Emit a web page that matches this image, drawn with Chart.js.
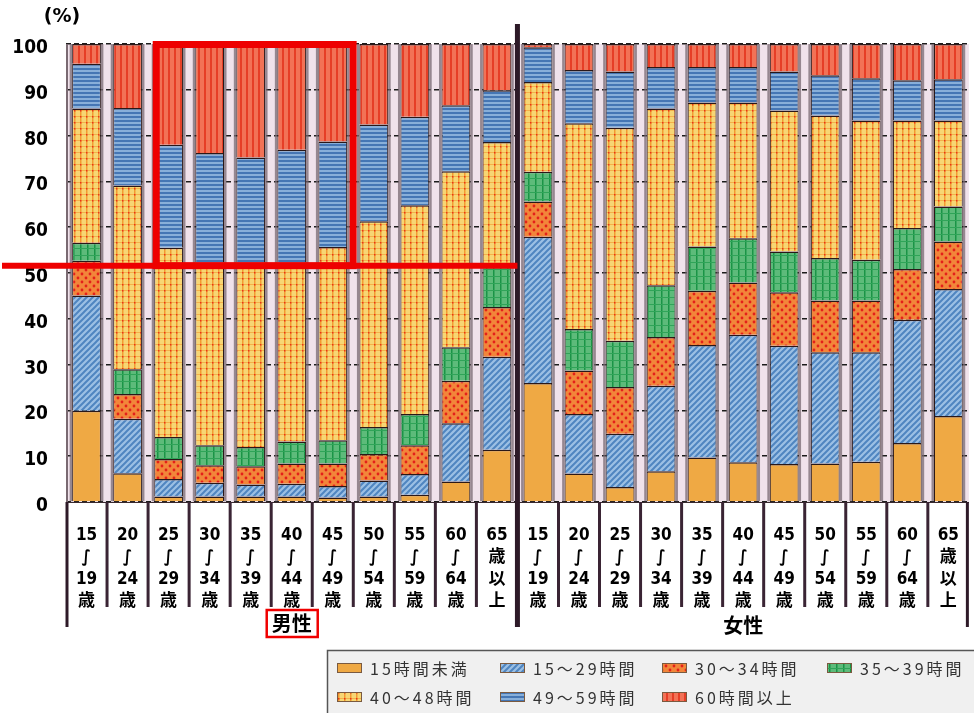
<!DOCTYPE html>
<html><head><meta charset="utf-8">
<script src="https://cdn.jsdelivr.net/npm/chart.js@4.4.1/dist/chart.umd.min.js"></script>
<style>html,body{margin:0;padding:0;background:#fff;overflow:hidden}#wrap{position:relative;width:974px;height:713px}</style>
</head><body><div id="wrap"><canvas id="c" width="974" height="713"></canvas></div>
<script>
// ---- data ----
const categories = [
  ['15','∫','19','歳'],['20','∫','24','歳'],['25','∫','29','歳'],['30','∫','34','歳'],['35','∫','39','歳'],
  ['40','∫','44','歳'],['45','∫','49','歳'],['50','∫','54','歳'],['55','∫','59','歳'],['60','∫','64','歳'],['65','歳','以','上'],
  ['15','∫','19','歳'],['20','∫','24','歳'],['25','∫','29','歳'],['30','∫','34','歳'],['35','∫','39','歳'],
  ['40','∫','44','歳'],['45','∫','49','歳'],['50','∫','54','歳'],['55','∫','59','歳'],['60','∫','64','歳'],['65','歳','以','上']
];
const groupLabels = ['男性','女性'];
const seriesNames = ['15時間未満','15～29時間','30～34時間','35～39時間','40～48時間','49～59時間','60時間以上'];
const yTicks = [0,10,20,30,40,50,60,70,80,90,100];
const yUnit = '(%)';

const hUnder15 = [19.9, 6.3, 1.2, 1.2, 1.2, 1.2, 1.0, 1.2, 1.6, 4.5, 11.4,  26.0, 6.2, 3.3, 6.7, 9.7, 8.7, 8.3, 8.4, 8.8, 12.9, 18.8];
const h15to29  = [25.2, 11.9, 3.8, 3.0, 2.6, 2.8, 2.5, 3.5, 4.5, 12.7, 20.3,  31.9, 13.0, 11.6, 18.7, 24.6, 27.8, 25.8, 24.3, 23.9, 26.9, 27.7];
const h30to34  = [7.6, 5.4, 4.4, 3.8, 4.0, 4.4, 4.9, 5.8, 6.3, 9.3, 10.9,  7.7, 9.5, 10.2, 10.6, 11.8, 11.4, 11.7, 11.3, 11.3, 11.1, 10.4];
const h35to39  = [3.9, 5.4, 4.8, 4.4, 4.2, 4.8, 5.1, 5.9, 6.8, 7.3, 8.9,  6.5, 9.1, 10.1, 11.3, 9.7, 9.7, 8.9, 9.3, 8.9, 8.9, 7.6];
const h40to48  = [29.3, 40.1, 41.3, 39.9, 40.3, 39.1, 42.2, 44.9, 45.6, 38.4, 27.1,  19.6, 44.9, 46.5, 38.6, 31.4, 29.6, 30.8, 31.1, 30.4, 23.5, 18.8];
const h49to59  = [9.8, 16.9, 22.5, 23.9, 22.9, 24.6, 23.0, 21.1, 19.3, 14.4, 11.3,  7.6, 11.6, 12.3, 9.1, 7.8, 7.8, 8.5, 8.8, 9.2, 8.8, 9.0];
const h60plus  = [4.3, 14.0, 22.0, 23.8, 24.8, 23.1, 21.3, 17.6, 15.9, 13.4, 10.1,  0.7, 5.7, 6.0, 5.0, 5.0, 5.0, 6.0, 6.8, 7.5, 7.9, 7.7];
const seriesValues = [hUnder15, h15to29, h30to34, h35to39, h40to48, h49to59, h60plus];

// highlight annotation (male 25-29 .. 45-49, line at ~51.6%)
const highlightFrom = 2, highlightTo = 6, highlightLevel = 51.6, groupSize = 11;

// ---- patterns ----
function makePattern(w, h, draw) {
  const c = document.createElement('canvas'); c.width = w; c.height = h;
  const g = c.getContext('2d'); draw(g, w, h);
  return g.createPattern(c, 'repeat');
}
const patterns = [
  makePattern(4,4,(g)=>{g.fillStyle='#efa944';g.fillRect(0,0,4,4);}),
  makePattern(6,6,(g)=>{g.fillStyle='#9cc0e4';g.fillRect(0,0,6,6);g.strokeStyle='#4f85c0';g.lineWidth=2;
    g.beginPath();g.moveTo(-3,3);g.lineTo(3,-3);g.moveTo(0,6);g.lineTo(6,0);g.moveTo(3,9);g.lineTo(9,3);g.stroke();}),
  makePattern(8,8,(g)=>{g.fillStyle='#f2863a';g.fillRect(0,0,8,8);g.fillStyle='#e4201a';
    g.beginPath();g.arc(2,2,1.4,0,Math.PI*2);g.arc(6,6,1.4,0,Math.PI*2);g.fill();}),
  makePattern(7,7,(g)=>{g.fillStyle='#5dbb7a';g.fillRect(0,0,7,7);g.fillStyle='#1a9446';g.fillRect(3,0,1.5,7);g.fillStyle='#2f a458'.replace(' ','');g.fillRect(0,3,7,1);}),
  makePattern(6,6,(g)=>{g.fillStyle='#f7d674';g.fillRect(0,0,6,6);g.fillStyle='#f29a30';g.fillRect(2,0,1.5,6);g.fillStyle='#f4b048';g.fillRect(0,2,6,1);g.fillStyle='#e83418';g.fillRect(2,2,1.5,1.5);}),
  makePattern(4,4,(g)=>{g.fillStyle='#88afd9';g.fillRect(0,0,4,4);g.fillStyle='#4576b4';g.fillRect(0,0,4,2);}),
  makePattern(6,6,(g)=>{g.fillStyle='#f27256';g.fillRect(0,0,6,6);g.fillStyle='#e63e26';g.fillRect(0,0,2,6);})
];

const numFont = "'DejaVu Sans Condensed','DejaVu Sans','Noto Sans CJK JP',sans-serif";
const cjkFont = "'Noto Sans CJK JP',sans-serif";

function boundary(xs, k, n) {
  if (k <= 0) return xs.left;
  if (k >= n) return xs.right;
  return (xs.getPixelForTick(k - 1) + xs.getPixelForTick(k)) / 2;
}

const decor = {
  id: 'decor',
  beforeDraw(chart) {
    const {ctx, chartArea: a} = chart;
    ctx.save(); ctx.fillStyle = '#f0e2eb'; ctx.fillRect(a.left, a.top, a.right - a.left, a.bottom - a.top); ctx.restore();
  },
  beforeDatasetsDraw(chart) {
    const {ctx} = chart;
    const m0 = chart.getDatasetMeta(0), mL = chart.getDatasetMeta(chart.data.datasets.length - 1);
    ctx.save(); ctx.fillStyle = 'rgba(120,104,114,0.75)';
    m0.data.forEach((b, i) => {
      const top = mL.data[i].y, base = b.base, w = b.width;
      ctx.fillRect(b.x - w/2 - 2.5, top, 2.5, base - top);
      ctx.fillRect(b.x + w/2, top, 2.5, base - top);
    });
    ctx.restore();
  },
  afterDraw(chart) {
    const {ctx, chartArea: a} = chart;
    const xs = chart.scales.x, ys = chart.scales.y;
    const n = categories.length;
    ctx.save();
    // separators under x axis
    ctx.strokeStyle = '#3a2434'; ctx.lineWidth = 3;
    for (let k = 1; k < n; k++) {
      if (k === groupSize) continue;
      const x = boundary(xs, k, n);
      ctx.beginPath(); ctx.moveTo(x, a.bottom); ctx.lineTo(x, a.bottom + 105); ctx.stroke();
    }
    // left axis + right edge
    ctx.strokeStyle = '#7a6a72'; ctx.lineWidth = 2;
    ctx.beginPath(); ctx.moveTo(a.left + 1, a.top); ctx.lineTo(a.left + 1, a.bottom); ctx.stroke();
    ctx.strokeStyle = '#2e1a28'; ctx.lineWidth = 3;
    ctx.beginPath(); ctx.moveTo(a.left + 1, a.bottom); ctx.lineTo(a.left + 1, a.bottom + 125); ctx.stroke();
    ctx.beginPath(); ctx.moveTo(a.right - 1.5, a.bottom); ctx.lineTo(a.right - 1.5, a.bottom + 125); ctx.stroke();
    // group divider
    const xd = boundary(xs, groupSize, n);
    ctx.strokeStyle = '#2d1a28'; ctx.lineWidth = 5;
    ctx.beginPath(); ctx.moveTo(xd, a.top - 20); ctx.lineTo(xd, a.bottom + 125); ctx.stroke();
    // unit
    ctx.fillStyle = '#000'; ctx.font = "bold 19px 'DejaVu Sans',sans-serif"; ctx.textAlign = 'center'; ctx.textBaseline = 'middle';
    ctx.fillText(yUnit, 62, 17);
    // group labels
    ctx.font = "bold 20px " + cjkFont;
    const gx0 = (a.left + xd) / 2, gx1 = (xd + a.right) / 2;
    ctx.fillText(groupLabels[0], gx0, a.bottom + 121);
    ctx.fillText(groupLabels[1], gx1, a.bottom + 123);
    ctx.strokeStyle = '#f00000'; ctx.lineWidth = 2.5;
    ctx.strokeRect(gx0 - 25, a.bottom + 108, 51, 27);
    // highlight annotation
    const b1 = chart.getDatasetMeta(0).data[highlightFrom], b2 = chart.getDatasetMeta(0).data[highlightTo];
    const yTop = ys.getPixelForValue(100), yLine = ys.getPixelForValue(highlightLevel);
    ctx.strokeStyle = '#ee0000'; ctx.lineWidth = 7;
    ctx.strokeRect(b1.x - b1.width/2 + 2, yTop + 0.5, (b2.x + b2.width/2 + 6) - (b1.x - b1.width/2 + 2), yLine - yTop - 0.5);
    ctx.lineWidth = 6;
    ctx.beginPath(); ctx.moveTo(2, yLine); ctx.lineTo(xd, yLine); ctx.stroke();
    // legend
    const lx = 327, ly = 650;
    ctx.fillStyle = '#f0f0f0'; ctx.fillRect(lx, ly, 700, 80);
    ctx.strokeStyle = '#555'; ctx.lineWidth = 1.5; ctx.strokeRect(lx + 0.5, ly + 0.5, 700, 80);
    const cols = [337, 500, 662, 827], rows = [668, 697];
    ctx.font = "16px " + cjkFont; ctx.textAlign = 'left';
    try { ctx.letterSpacing = '3px'; } catch (e) {}
    seriesNames.forEach((name, i) => {
      const cx = cols[i % 4], cy = rows[Math.floor(i / 4)];
      ctx.fillStyle = patterns[i]; ctx.fillRect(cx, cy - 5, 25, 10);
      ctx.strokeStyle = '#7a5a40'; ctx.lineWidth = 1; ctx.strokeRect(cx + 0.5, cy - 4.5, 24, 9);
      ctx.fillStyle = '#333'; ctx.fillText(name, cx + 33, cy + 1);
    });
    ctx.restore();
  }
};

new Chart(document.getElementById('c'), {
  type: 'bar',
  data: {
    labels: categories,
    datasets: seriesNames.map((name, i) => ({
      label: name, data: seriesValues[i], backgroundColor: patterns[i],
      borderColor: '#2a1818', borderWidth: {top: 1.5, left: 1, right: 1, bottom: 0}, borderSkipped: false,
      barPercentage: 0.7, categoryPercentage: 1
    }))
  },
  options: {
    responsive: false, animation: false, devicePixelRatio: 1,
    layout: {padding: {top: 44, right: 0, left: 0, bottom: 0}},
    plugins: {legend: {display: false}, tooltip: {enabled: false}},
    scales: {
      x: {
        stacked: true, offset: true,
        grid: {display: false},
        border: {display: true, color: '#3a2a30', width: 1},
        ticks: {autoSkip: false, maxRotation: 0, minRotation: 0, padding: 15, color: '#000',
          font: {family: numFont, size: 17, weight: 'bold', lineHeight: '22px'}},
        afterFit(s) { s.height = 211; }
      },
      y: {
        stacked: true, min: 0, max: 100,
        afterBuildTicks(s) { s.ticks = yTicks.map(v => ({value: v})); },
        ticks: {padding: 18, labelOffset: 4, color: '#000', font: {family: numFont, size: 19, weight: 'bold'}},
        grid: {color: '#1c1c1c', lineWidth: 1.5, drawTicks: false},
        border: {display: false, dash: [5, 3]},
        afterFit(s) { s.width = 66; }
      }
    }
  },
  plugins: [decor]
});
</script>
</body></html>
